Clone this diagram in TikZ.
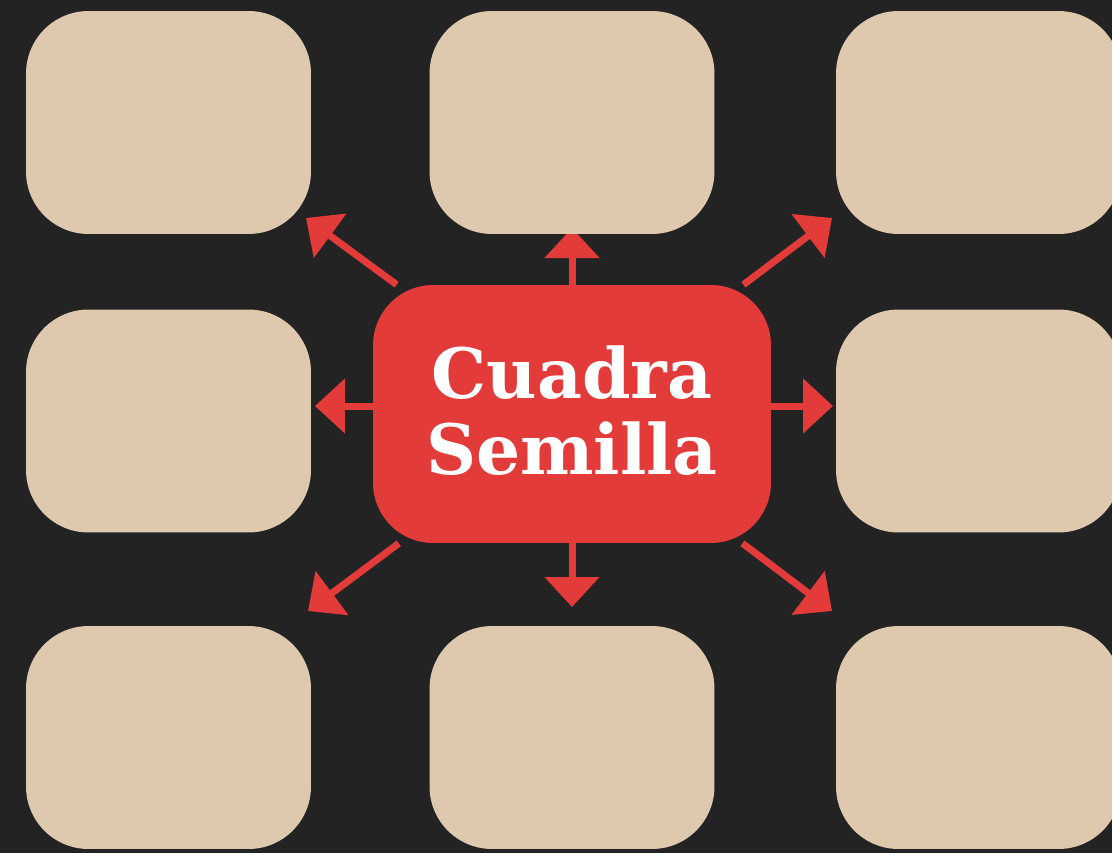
\documentclass[tikz,border=0pt]{standalone}
\usepackage{fontspec}
\setmainfont{DejaVu Serif}
\usetikzlibrary{positioning, arrows.meta}
\pgfdeclarelayer{back}
\pgfdeclarelayer{bg}
\pgfsetlayers{back,bg,main}
\definecolor{board}{HTML}{232323}
\definecolor{sand}{HTML}{DEC9AE}
\definecolor{seedred}{HTML}{E33A3A}

\begin{document}
\begin{tikzpicture}[x=0.02cm, y=-0.02cm,
  cell/.style={fill=sand, rounded corners=1.25cm, minimum width=5.7cm, minimum height=4.46cm},
  seed/.style={fill=seedred, rounded corners=1.2cm, minimum width=7.96cm, minimum height=5.16cm,
    text=white, font=\bfseries\fontsize{39.5}{43}\selectfont, align=center},
  spoke/.style={-{Triangle[width=1.07cm, length=0.6cm]}, draw=seedred, fill=seedred, line width=0.14cm}]
\useasboundingbox (0,0) rectangle (1112,853);
\begin{pgfonlayer}{back}
\fill[board] (0,0) rectangle (1112,853);
\end{pgfonlayer}
% boxes %
\node[cell] (tl) at (168.5,122.5) {};
\node[cell] (tm) at (572,122.5) {};
\node[cell] (tr) at (978.5,122.5) {};
\node[cell] (ml) at (168.5,421) {};
\node[cell] (mr) at (978.5,421) {};
\node[cell] (bl) at (168.5,737.5) {};
\node[cell] (bm) at (572,737.5) {};
\node[cell] (br) at (978.5,737.5) {};
\node[seed] (cs) at (572,414) {Cuadra\\Semilla\rule[-0.16cm]{0pt}{0pt}};
% arrow tips %
\coordinate (aul) at (306,218);
\coordinate (au) at (572,228);
\coordinate (aur) at (832,218);
\coordinate (al) at (315,406);
\coordinate (ar) at (833,406);
\coordinate (adl) at (308,611);
\coordinate (ad) at (572,607);
\coordinate (adr) at (832,611);
% arrows %
\begin{pgfonlayer}{bg}
\draw[spoke] (cs) -- (aul);
\draw[spoke] (cs) -- (au);
\draw[spoke] (cs) -- (aur);
\draw[spoke] (cs.center |- al) -- (al);
\draw[spoke] (cs.center |- ar) -- (ar);
\draw[spoke] (cs) -- (adl);
\draw[spoke] (cs) -- (ad);
\draw[spoke] (cs) -- (adr);
\end{pgfonlayer}
\end{tikzpicture}
\end{document}
